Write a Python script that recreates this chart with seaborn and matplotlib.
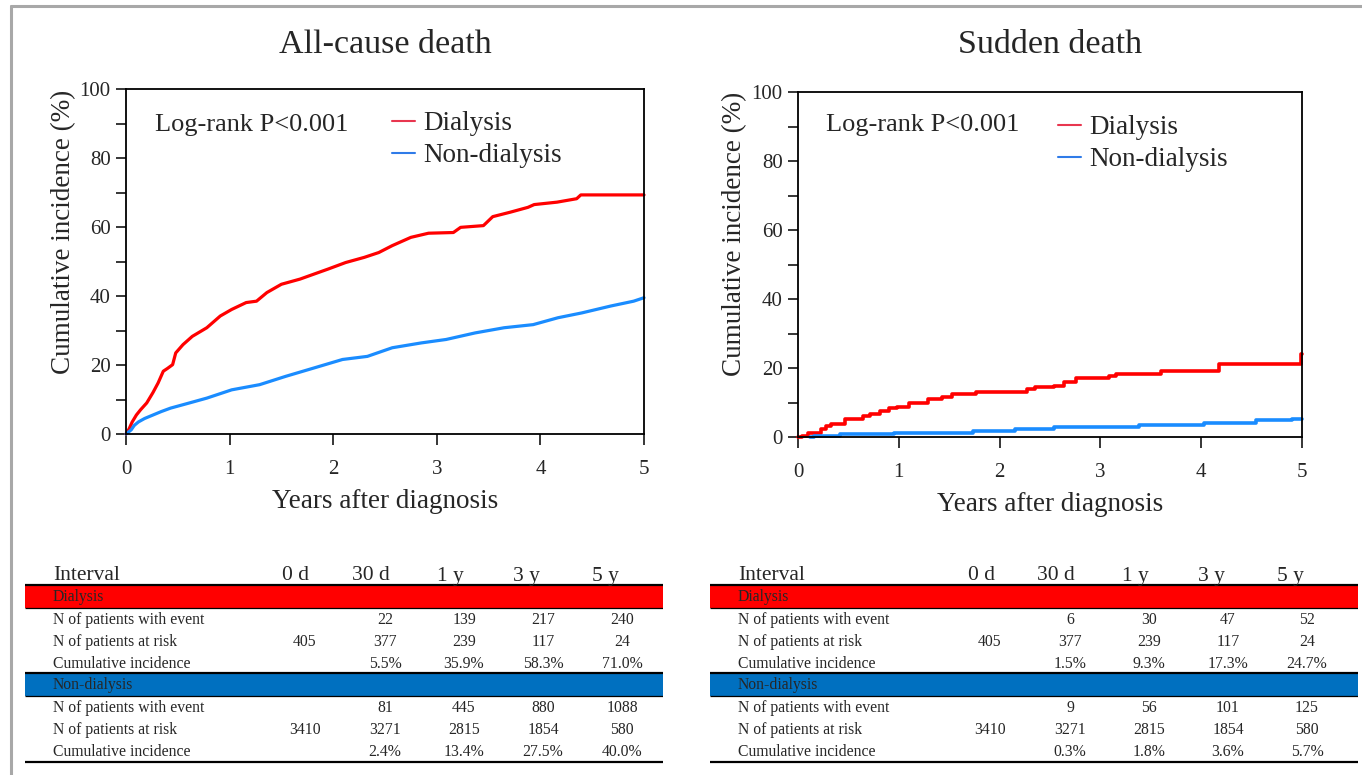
import matplotlib
matplotlib.use("Agg")
import matplotlib.pyplot as plt
from matplotlib.lines import Line2D
from matplotlib.patches import Rectangle
from matplotlib.ticker import MultipleLocator
import numpy as np
import pandas as pd
import seaborn as sns

# ---------------- data ----------------
# All-cause death (years, cumulative incidence %)
allcause_dial_t = [0, 0.03, 0.06, 0.10, 0.14, 0.20, 0.26, 0.31, 0.36, 0.40, 0.45, 0.48, 0.55, 0.64,
                   0.78, 0.91, 1.02, 1.16, 1.26, 1.36, 1.50, 1.68, 1.81, 1.95, 2.12, 2.30, 2.44, 2.57,
                   2.75, 2.92, 3.16, 3.23, 3.45, 3.54, 3.71, 3.88, 3.94, 4.16, 4.35, 4.39, 5.0]
allcause_dial_y = [0, 1.5, 3.5, 5.5, 7.0, 9.0, 12.0, 14.8, 18.2, 19.0, 20.1, 23.5, 25.9, 28.3,
                   30.8, 34.2, 36.1, 38.1, 38.5, 41.0, 43.4, 44.9, 46.3, 47.8, 49.7, 51.2, 52.6, 54.6,
                   57.0, 58.2, 58.4, 59.9, 60.4, 63.0, 64.3, 65.7, 66.5, 67.2, 68.2, 69.3, 69.3]
allcause_non_t = [0, 0.05, 0.08, 0.12, 0.18, 0.26, 0.34, 0.43, 0.60, 0.78, 0.90, 1.02, 1.29, 1.54,
                  1.81, 2.09, 2.33, 2.57, 2.85, 3.09, 3.37, 3.65, 3.93, 4.17, 4.40, 4.68, 4.90, 5.0]
allcause_non_y = [0, 1.2, 2.5, 3.5, 4.5, 5.5, 6.5, 7.5, 8.9, 10.4, 11.6, 12.8, 14.3, 16.7,
                  19.1, 21.6, 22.5, 25.0, 26.4, 27.4, 29.3, 30.8, 31.7, 33.7, 35.1, 37.1, 38.5, 39.5]

# Sudden death
sudden_dial_t = [0, 0.04, 0.10, 0.23, 0.28, 0.33, 0.47, 0.64, 0.71, 0.81, 0.90, 0.98, 1.10, 1.29,
                 1.43, 1.53, 1.77, 2.27, 2.35, 2.54, 2.64, 2.76, 3.09, 3.15, 3.60, 4.18, 4.99, 5.0]
sudden_dial_y = [0, 0.3, 1.3, 2.2, 3.2, 3.7, 5.1, 6.1, 6.6, 7.6, 8.3, 8.8, 9.8, 11.0,
                 11.7, 12.4, 12.9, 13.9, 14.4, 14.9, 16.0, 17.1, 17.6, 18.3, 19.2, 21.1, 24.1, 24.1]
sudden_non_t = [0.12, 0.16, 0.42, 0.95, 1.74, 2.15, 2.54, 3.38, 4.03, 4.54, 4.90, 5.0]
sudden_non_y = [0, 0.3, 0.8, 1.3, 1.7, 2.2, 2.9, 3.5, 4.2, 4.9, 5.3, 5.3]

titles = ["All-cause death", "Sudden death"]
groups = ["Dialysis", "Non-dialysis"]
intervals = ["0 d", "30 d", "1 y", "3 y", "5 y"]
row_labels = ["N of patients with event", "N of patients at risk", "Cumulative incidence"]

allcause_dial_table = [["", "22", "139", "217", "240"],
                       ["405", "377", "239", "117", "24"],
                       ["", "5.5%", "35.9%", "58.3%", "71.0%"]]
allcause_non_table = [["", "81", "445", "880", "1088"],
                      ["3410", "3271", "2815", "1854", "580"],
                      ["", "2.4%", "13.4%", "27.5%", "40.0%"]]
sudden_dial_table = [["", "6", "30", "47", "52"],
                     ["405", "377", "239", "117", "24"],
                     ["", "1.5%", "9.3%", "17.3%", "24.7%"]]
sudden_non_table = [["", "9", "56", "101", "125"],
                    ["3410", "3271", "2815", "1854", "580"],
                    ["", "0.3%", "1.8%", "3.6%", "5.7%"]]

# ---------------- style ----------------
sns.set_theme(style="ticks")
plt.rcParams["font.family"] = ["Liberation Serif", "DejaVu Serif"]
plt.rcParams["axes.linewidth"] = 1.3

RED = "#ff0000"
BLUE = "#1a8cff"
BAND_RED = "#ff0000"
BAND_BLUE = "#0070c0"

W, H = 1362, 775
fig = plt.figure(figsize=(W / 100, H / 100), dpi=100)
fig.patch.set_facecolor("white")


def px_axes(l, t, r, b):
    return fig.add_axes([l / W, 1 - b / H, (r - l) / W, (b - t) / H])


def make_df(t, y, name):
    return pd.DataFrame({"Years": t, "Incidence": y, "Group": name})


def draw_panel(ax, title, dial_t, dial_y, non_t, non_y, lw, style, lr_y, leg_anchor, ylab_xy):
    df = pd.concat([make_df(dial_t, dial_y, groups[0]), make_df(non_t, non_y, groups[1])])
    sns.lineplot(data=df, x="Years", y="Incidence", hue="Group",
                 palette={groups[0]: RED, groups[1]: BLUE},
                 drawstyle=style, estimator=None, sort=False,
                 linewidth=lw, ax=ax, legend=False)
    ax.set_xlim(0, 5)
    ax.set_ylim(0, 100)
    ax.yaxis.set_major_locator(MultipleLocator(20))
    ax.yaxis.set_minor_locator(MultipleLocator(10))
    ax.xaxis.set_major_locator(MultipleLocator(1))
    ax.tick_params(axis="y", which="both", direction="out", length=7, width=1.3,
                   labelsize=15, pad=4)
    ax.tick_params(axis="x", which="major", direction="out", length=8, width=1.3,
                   labelsize=15, pad=11)
    ax.tick_params(axis="x", which="minor", length=0)
    for s in ax.spines.values():
        s.set_visible(True)
        s.set_color("black")
        s.set_linewidth(1.3)
    ax.set_xlabel("Years after diagnosis", fontsize=19.5, labelpad=7)
    ax.set_ylabel("Cumulative incidence (%)", fontsize=19.5)
    ax.yaxis.set_label_coords(*ylab_xy)
    pos = ax.get_position()
    fig.text(pos.x0 + pos.width / 2, 1 - 53 / H, title, fontsize=24.5,
             ha="center", va="baseline")
    ax.text(0.056, lr_y, "Log-rank P<0.001", transform=ax.transAxes,
            fontsize=19, va="center", ha="left")
    handles = [Line2D([], [], color="#e8364f", lw=1.5), Line2D([], [], color="#2f7be8", lw=1.5)]
    ax.legend(handles, groups, loc="upper left", bbox_to_anchor=leg_anchor,
              frameon=False, fontsize=19.5, handlelength=0.85, handletextpad=0.3,
              labelspacing=0.27, borderpad=0, borderaxespad=0)
    for line in ax.lines:
        line.set_clip_on(False)


ax1 = px_axes(126, 89, 644, 434)
draw_panel(ax1, titles[0], allcause_dial_t, allcause_dial_y, allcause_non_t, allcause_non_y,
           2.3, "default", 0.895, (0.5135, 0.936), (-0.096, 0.585))
ax2 = px_axes(798, 92, 1302, 437)
draw_panel(ax2, titles[1], sudden_dial_t, sudden_dial_y, sudden_non_t, sudden_non_y,
           2.6, "steps-post", 0.905, (0.516, 0.933), (-0.100, 0.59))


def draw_table(left, right, dial_tab, non_tab):
    width = right - left
    ax = px_axes(left, 555, right, 770)
    ax.set_xlim(0, width)
    ax.set_ylim(215, 0)
    ax.axis("off")
    hdr_x = [271, 346, 425, 501, 580]
    val_x = [280, 360, 439, 518, 597]
    lab_x = 28
    ax.text(lab_x, 21, "Interval", fontsize=15.5, ha="left", va="center")
    for x, s in zip(hdr_x, intervals):
        ax.text(x, 21, s, fontsize=15.5, ha="center", va="center")
    ax.plot([0, width], [30, 30], color="black", lw=1.6, solid_capstyle="butt")
    blocks = [(31, BAND_RED, groups[0], dial_tab), (119, BAND_BLUE, groups[1], non_tab)]
    for top, col, name, tab in blocks:
        ax.add_patch(Rectangle((0, top), width, 22, facecolor=col, edgecolor="none"))
        ax.plot([0, width], [top + 22, top + 22], color="black", lw=0.9, solid_capstyle="butt")
        ax.text(lab_x, top + 11, name, fontsize=11.3, ha="left", va="center")
        for i, (lab, vals) in enumerate(zip(row_labels, tab)):
            y = top + 34 + 22 * i
            ax.text(lab_x, y, lab, fontsize=11.3, ha="left", va="center")
            for x, v in zip(val_x, vals):
                ax.text(x, y, v, fontsize=11.3, ha="center", va="center")
    ax.plot([0, width], [118, 118], color="black", lw=1.6, solid_capstyle="butt")
    ax.plot([0, width], [207, 207], color="black", lw=1.6, solid_capstyle="butt")


draw_table(25, 663, allcause_dial_table, allcause_non_table)
draw_table(710, 1358, sudden_dial_table, sudden_non_table)

# grey frame (top and left)
fig.add_artist(Line2D([11 / W, 11 / W], [0, 1 - 6 / H], color="#a8a8a8", lw=2.2,
                      transform=fig.transFigure))
fig.add_artist(Line2D([11 / W, 1], [1 - 6 / H, 1 - 6 / H], color="#a8a8a8", lw=2.2,
                      transform=fig.transFigure))

fig.savefig("out.png", dpi=100, facecolor="white")
